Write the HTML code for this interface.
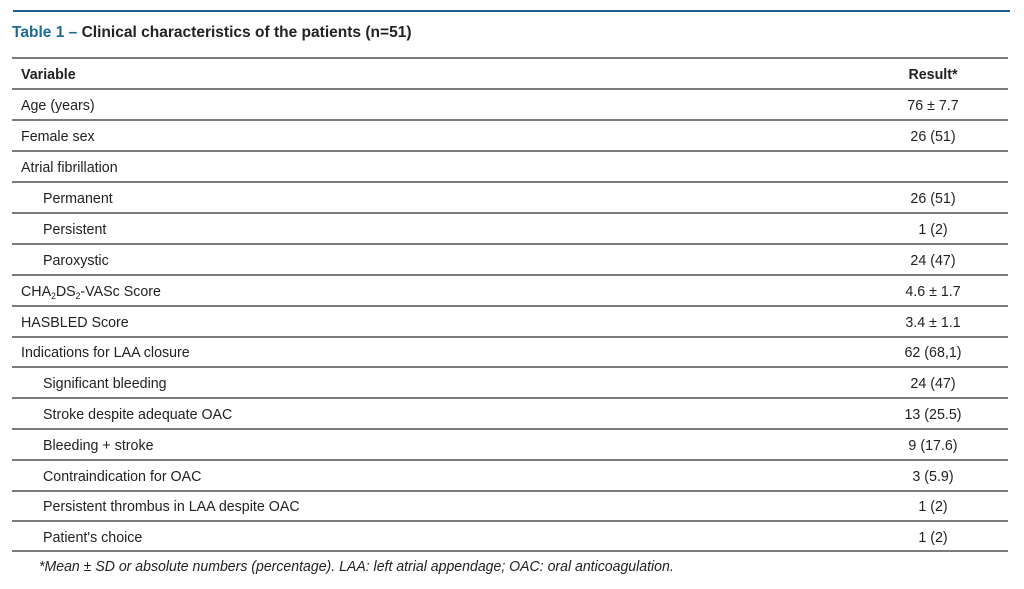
<!DOCTYPE html>
<html><head><meta charset="utf-8"><style>
body{margin:0;width:1024px;height:589px;background:#fff;position:relative;overflow:hidden;font-family:"Liberation Sans",sans-serif;color:#222}
.l{position:absolute;left:12px;width:996px;height:2px;background:#7a7a7a}
.t{position:absolute;font-size:15px;line-height:18px;white-space:nowrap;transform:scaleX(0.95);transform-origin:left center;margin-top:2px}
.r{position:absolute;font-size:15px;line-height:18px;white-space:nowrap;width:200px;left:833px;text-align:center;transform:scaleX(0.95);transform-origin:center center;margin-top:2px}
sub{font-size:9px;vertical-align:-3px;line-height:0}
</style></head><body>
<div style="position:absolute;left:13px;top:10px;width:997px;height:2px;background:#1a5f8e"></div>
<div class="t" style="left:12px;top:22px;font-weight:bold;font-size:16px;transform:scaleX(0.97)"><span style="color:#1a6a9a">Table 1 –</span> Clinical characteristics of the patients (n=51)</div>
<div class="l" style="top:57px"></div>
<div class="t" style="left:21px;top:64px;font-weight:bold">Variable</div><div class="r" style="top:64px;font-weight:bold">Result*</div>
<div class="l" style="top:88px"></div>
<div class="t" style="left:21px;top:95px">Age (years)</div><div class="r" style="top:95px">76 ± 7.7</div>
<div class="l" style="top:119px"></div>
<div class="t" style="left:21px;top:126px">Female sex</div><div class="r" style="top:126px">26 (51)</div>
<div class="l" style="top:150px"></div>
<div class="t" style="left:21px;top:157px">Atrial fibrillation</div>
<div class="l" style="top:181px"></div>
<div class="t" style="left:43px;top:188px">Permanent</div><div class="r" style="top:188px">26 (51)</div>
<div class="l" style="top:212px"></div>
<div class="t" style="left:43px;top:219px">Persistent</div><div class="r" style="top:219px">1 (2)</div>
<div class="l" style="top:243px"></div>
<div class="t" style="left:43px;top:250px">Paroxystic</div><div class="r" style="top:250px">24 (47)</div>
<div class="l" style="top:274px"></div>
<div class="t" style="left:21px;top:281px">CHA<sub>2</sub>DS<sub>2</sub>-VASc Score</div><div class="r" style="top:281px">4.6 ± 1.7</div>
<div class="l" style="top:305px"></div>
<div class="t" style="left:21px;top:312px">HASBLED Score</div><div class="r" style="top:312px">3.4 ± 1.1</div>
<div class="l" style="top:336px"></div>
<div class="t" style="left:21px;top:342px">Indications for LAA closure</div><div class="r" style="top:342px">62 (68,1)</div>
<div class="l" style="top:366px"></div>
<div class="t" style="left:43px;top:373px">Significant bleeding</div><div class="r" style="top:373px">24 (47)</div>
<div class="l" style="top:397px"></div>
<div class="t" style="left:43px;top:404px">Stroke despite adequate OAC</div><div class="r" style="top:404px">13 (25.5)</div>
<div class="l" style="top:428px"></div>
<div class="t" style="left:43px;top:435px">Bleeding + stroke</div><div class="r" style="top:435px">9 (17.6)</div>
<div class="l" style="top:459px"></div>
<div class="t" style="left:43px;top:466px">Contraindication for OAC</div><div class="r" style="top:466px">3 (5.9)</div>
<div class="l" style="top:490px"></div>
<div class="t" style="left:43px;top:496px">Persistent thrombus in LAA despite OAC</div><div class="r" style="top:496px">1 (2)</div>
<div class="l" style="top:520px"></div>
<div class="t" style="left:43px;top:527px">Patient's choice</div><div class="r" style="top:527px">1 (2)</div>
<div class="l" style="top:550px"></div>
<div class="t" style="left:39px;top:556px;font-style:italic;transform:scaleX(0.94)">*Mean ± SD or absolute numbers (percentage). LAA: left atrial appendage; OAC: oral anticoagulation.</div>
</body></html>
